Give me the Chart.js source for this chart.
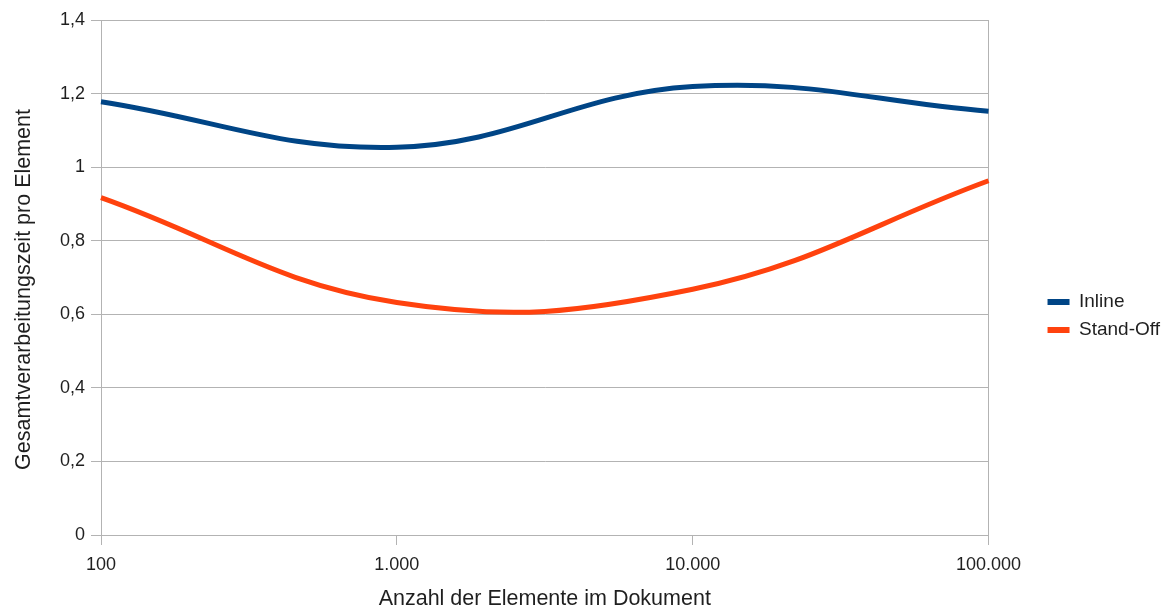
<!DOCTYPE html>
<html>
<head>
<meta charset="utf-8">
<script src="https://cdn.jsdelivr.net/npm/chart.js"></script>
<style>
  html, body { margin: 0; padding: 0; background: #fff; }
  #wrap { width: 1164px; height: 612px; }
</style>
</head>
<body>
<div id="wrap"><canvas id="chart"></canvas></div>
<script>
// categories (number of elements in the document)
const elementCounts = ['100', '1.000', '10.000', '100.000'];
// processing time per element
const inlineTimes = [1.178, 1.054, 1.219, 1.152];
const standOffTimes = [0.917, 0.632, 0.668, 0.963];
// y tick labels (German decimal comma)
const yTickLabels = ['0', '0,2', '0,4', '0,6', '0,8', '1', '1,2', '1,4'];

const textColor = '#1f1f1f';
const gridColor = '#b3b3b3';

Chart.defaults.font.family = '"Liberation Sans", Arial, sans-serif';
Chart.defaults.color = textColor;

const ctx = document.getElementById('chart').getContext('2d');

new Chart(ctx, {
    type: 'line',
    data: {
        labels: elementCounts,
        datasets: [{
            label: 'Inline',
            data: inlineTimes,
            borderColor: '#004586',
            backgroundColor: '#004586',
            borderWidth: 5,
            pointRadius: 0,
            tension: 0.4,
            fill: false
        }, {
            label: 'Stand-Off',
            data: standOffTimes,
            borderColor: '#ff420e',
            backgroundColor: '#ff420e',
            borderWidth: 5,
            pointRadius: 0,
            tension: 0.4,
            fill: false
        }]
    },
    options: {
        responsive: true,
        maintainAspectRatio: false,
        animation: false,
        layout: {
            padding: { left: 11, right: -6, top: 20, bottom: 0 }
        },
        plugins: {
            tooltip: { enabled: false },
            legend: {
                position: 'right',
                labels: {
                    boxWidth: 22,
                    boxHeight: 6,
                    padding: 9,
                    color: textColor,
                    font: { size: 19 },
                    generateLabels(chart) {
                        return Chart.defaults.plugins.legend.labels.generateLabels(chart)
                            .map(l => ({ ...l, lineWidth: 0 }));
                    }
                }
            }
        },
        scales: {
            x: {
                offset: false,
                grid: { drawOnChartArea: false, drawTicks: true, tickLength: 10, color: gridColor },
                border: { color: gridColor },
                ticks: { padding: 9, maxRotation: 0, font: { size: 18 }, color: textColor },
                title: {
                    display: true,
                    text: 'Anzahl der Elemente im Dokument',
                    font: { size: 21.5 },
                    color: textColor,
                    padding: 0
                },
                afterFit(scale) { scale.height = 77; }
            },
            y: {
                min: 0,
                max: 1.4,
                grid: { color: gridColor, tickLength: 10 },
                border: { color: gridColor },
                ticks: {
                    stepSize: 0.2,
                    padding: 6,
                    font: { size: 18 },
                    color: textColor,
                    callback: (v, i) => yTickLabels[i]
                },
                title: {
                    display: true,
                    text: 'Gesamtverarbeitungszeit pro Element    ',
                    font: { size: 21.5 },
                    color: textColor,
                    padding: 0
                },
                afterFit(scale) { scale.width = 90; }
            },
            y2: {
                position: 'right',
                grid: { display: false },
                ticks: { display: false },
                border: { display: true, color: gridColor },
                afterFit(scale) { scale.width = 50; }
            }
        }
    }
});
</script>
</body>
</html>
